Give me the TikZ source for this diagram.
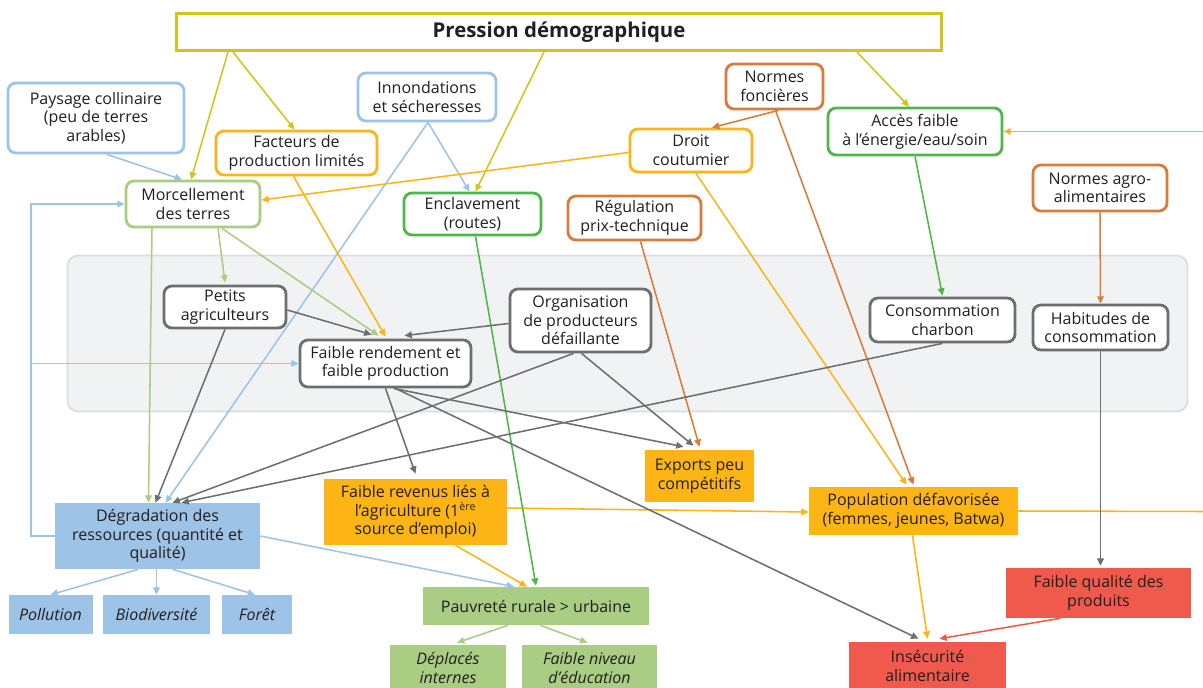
\documentclass[tikz,border=0pt]{standalone}
\usepackage{fontspec}
\setmainfont{Open Sans}
\usetikzlibrary{calc,arrows.meta}
\definecolor{cblue}{HTML}{9DC3E6}
\definecolor{corange}{HTML}{FDB515}
\definecolor{cbrown}{HTML}{D97B3A}
\definecolor{cgreen}{HTML}{4DB848}
\definecolor{clgreen}{HTML}{A9CD82}
\definecolor{cgrey}{HTML}{6D6E71}
\definecolor{cred}{HTML}{EF5A4C}
\definecolor{cyel}{HTML}{D4C31A}
\definecolor{cbg}{HTML}{F1F2F4}
\definecolor{cbgb}{HTML}{DCDDE0}
\definecolor{ctext}{HTML}{231F20}
\tikzset{
 sz/.style 2 args={minimum width=#1*0.75pt, minimum height=#2*0.75pt},
 base/.style={inner sep=0pt, align=center, font=\fontsize{12}{14}\selectfont, text=ctext},
 rbox/.style={base, draw=#1, line width=2.1pt, rounded corners=6pt, fill=white},
 fbox/.style={base, fill=#1},
 ibox/.style={base, fill=#1, font=\fontsize{12}{14}\selectfont\itshape},
 panel/.style={draw=cbgb, fill=cbg, line width=1.3pt, rounded corners=8pt, inner sep=0pt},
 arr/.style={draw=#1, line width=1.15pt, -{Triangle[length=5.5pt,width=5pt]}},
 ln/.style={draw=#1, line width=1.15pt},
}
\begin{document}
\begin{tikzpicture}[x=0.75pt,y=-0.75pt]
\useasboundingbox (0,0) rectangle (1203,688);
\fill[white] (0,0) rectangle (1203,688);
% panel
\node[panel, sz={1120}{156}] (panel) at (627.5,333.5) {};
% top nodes
\node[base, draw=cyel, line width=2.3pt, fill=white, sz={765}{37}, font=\fontsize{15.3}{18}\selectfont\bfseries] (title) at (559,32) {Pression démographique};
\node[rbox=cblue, sz={176}{70}] (paysage) at (96,118) {Paysage collinaire\\(peu de terres\\arables)};
\node[rbox=corange, sz={161}{44}] (facteurs) at (296.5,153) {Facteurs de\\production limités};
\node[rbox=cblue, sz={138}{48}] (innond) at (427,97) {Innondations\\et sécheresses};
\node[rbox=cbrown, sz={97}{45}] (normesf) at (774.5,86.5) {Normes\\foncières};
\node[rbox=corange, sz={122}{43}] (droit) at (691,150.5) {Droit\\coutumier};
\node[rbox=cgreen, sz={174}{47}] (acces) at (915,131.5) {Accès faible\\à l’énergie/eau/soin};
\node[rbox=cbrown, sz={134}{46}] (normesa) at (1100,188) {Normes agro-\\alimentaires};
\node[rbox=clgreen, sz={134}{46}] (morcel) at (193,204) {Morcellement\\des terres};
\node[rbox=cgreen, sz={137}{42}] (enclav) at (472.5,214) {Enclavement\\(routes)};
\node[rbox=cbrown, sz={133}{44}] (regul) at (634.5,218) {Régulation\\prix-technique};
% panel nodes
\node[rbox=cgrey, sz={122}{42}] (petits) at (225,307) {Petits\\agriculteurs};
\node[rbox=cgrey, sz={171}{47}] (faible) at (385.5,363.5) {Faible rendement et\\faible production};
\node[rbox=cgrey, sz={141}{63}] (organ) at (580.5,320.5) {Organisation\\de producteurs\\défaillante};
\node[rbox=cgrey, sz={145}{44}] (conso) at (942.5,320) {Consommation\\charbon};
\node[rbox=cgrey, sz={135}{45}] (habit) at (1100.5,327.5) {Habitudes de\\consommation};
% lower nodes
\node[fbox=corange, sz={109}{52}] (exports) at (699.5,476) {Exports peu\\compétitifs};
\node[fbox=corange, sz={183}{66}] (revenus) at (415.5,512) {Faible revenus liés à\\l’agriculture (1\textsuperscript{ère}\\source d’emploi)};
\node[fbox=corange, sz={209}{48}] (popul) at (913.5,511) {Population défavorisée\\(femmes, jeunes, Batwa)};
\node[fbox=cblue, sz={205}{66}] (degrad) at (157.5,536) {Dégradation des\\ressources (quantité et\\qualité)};
\node[ibox=cblue, sz={84}{39}] (pollu) at (50.5,614.5) {Pollution};
\node[ibox=cblue, sz={107}{39}] (biodiv) at (156.5,614.5) {Biodiversité};
\node[ibox=cblue, sz={70}{39}] (foret) at (257,614.5) {Forêt};
\node[fbox=clgreen, sz={226}{38}] (pauv) at (536,606) {Pauvreté rurale > urbaine};
\node[ibox=clgreen, sz={116}{46}] (deplac) at (448,668) {Déplacés\\internes};
\node[ibox=clgreen, sz={135}{46}] (faibniv) at (589.5,668) {Faible niveau\\d’éducation};
\node[fbox=cred, sz={157}{48}] (insec) at (927.5,666) {Insécurité\\alimentaire};
\node[fbox=cred, sz={185}{50}] (qualite) at (1098.5,593) {Faible qualité des\\produits};
\coordinate (rA) at (1203,131.5);
\coordinate (rP) at (1203,511.5);
\coordinate (lp) at ($(degrad.west)+(-24,0)$);
% title arrows
\draw[arr=cyel] ($(title.south)+(-331,0)$) -- ($(morcel.north)+(-2,0)$);
\draw[arr=cyel] ($(title.south)+(-326,0)$) -- ($(facteurs.north)+(-2,0)$);
\draw[arr=cyel] ($(title.south)+(-15,0)$) -- ($(enclav.north)+(3,0)$);
\draw[arr=cyel] ($(title.south)+(298,0)$) -- ($(acces.north)+(-6,0)$);
% blue
\draw[arr=cblue] ($(paysage.south)+(11,0)$) -- ($(morcel.north)+(-11,0)$);
\draw[arr=cblue] ($(innond.south)+(1,0)$) -- ($(enclav.north)+(-3,0)$);
\draw[arr=cblue] ($(innond.south)+(1,0)$) -- ($(degrad.north)+(8,0)$);
\draw[arr=cblue] (degrad.west) -- (lp) |- (morcel.west);
\draw[arr=cblue] (lp |- faible.west) -- (faible.west);
\draw[arr=cblue] (degrad.east) -- ($(pauv.north)+(-22,0)$);
\draw[arr=cblue] ($(degrad.south)+(-19,0)$) -- (pollu.north);
\draw[arr=cblue] ($(degrad.south)+(-1,0)$) -- (biodiv.north);
\draw[arr=cblue] ($(degrad.south)+(15,0)$) -- ($(foret.north)+(-2,0)$);
% orange
\draw[arr=corange] ($(facteurs.south)+(-3,0)$) -- ($(faible.north)+(0,-2)$);
\draw[arr=corange] ($(droit.west)+(0,2)$) -- ($(morcel.east)+(0,-4)$);
\draw[arr=corange] ($(droit.south)+(5,0)$) -- ($(popul.north)+(-7,-2)$);
\draw[arr=corange] (rA) -- (acces.east);
\draw[arr=corange] ($(revenus.east)+(0,-4)$) -- ($(popul.west)+(0,1)$);
\draw[ln=corange] (popul.east) -- (rP);
\draw[arr=corange] ($(revenus.south)+(40,0)$) -- ($(pauv.north)+(-9,0)$);
\draw[arr=corange] ($(popul.south)+(-1,0)$) -- ($(insec.north)+(0,-3)$);
% brown
\draw[arr=cbrown] ($(normesf.south)+(4,0)$) -- ($(droit.north)+(21,0)$);
\draw[arr=cbrown] ($(normesf.south)+(1,0)$) -- ($(popul.north)+(0,-2)$);
\draw[arr=cbrown] (normesa.south) -- (habit.north);
\draw[arr=cbrown] ($(regul.south)+(6,0)$) -- ($(exports.north)+(0,-3)$);
% green
\draw[arr=cgreen] ($(acces.south)+(0,0)$) -- ($(conso.north)+(0,-1)$);
\draw[arr=cgreen] ($(enclav.south)+(3,0)$) -- ($(pauv.north)+(0,-1)$);
% light green
\draw[arr=clgreen] ($(morcel.south)+(-41,0)$) -- ($(degrad.north)+(-9,0)$);
\draw[arr=clgreen] ($(morcel.south)+(25,0)$) -- ($(petits.north)+(0,-2)$);
\draw[arr=clgreen] ($(morcel.south)+(29,0)$) -- ($(faible.north)+(-7,-3)$);
\draw[arr=clgreen] ($(pauv.south)+(-28,0)$) -- ($(deplac.north)+(9,-2)$);
\draw[arr=clgreen] ($(pauv.south)+(4,0)$) -- ($(faibniv.north)+(-2,-2)$);
% grey
\draw[arr=cgrey] ($(petits.east)+(0,3)$) -- ($(faible.north)+(-14,-4)$);
\draw[arr=cgrey] (petits.south) -- ($(degrad.north)+(-2,0)$);
\draw[arr=cgrey] ($(organ.west)+(0,3)$) -- ($(faible.north)+(19,-3)$);
\draw[arr=cgrey] ($(organ.south)+(-7,0)$) -- ($(degrad.north)+(15,0)$);
\draw[arr=cgrey] ($(organ.south)+(1,0)$) -- ($(exports.north)+(-6,-4)$);
\draw[arr=cgrey] (conso.south) -- ($(degrad.north)+(24,0)$);
\draw[arr=cgrey] (faible.south) -- ($(revenus.north)+(0,-5)$);
\draw[arr=cgrey] ($(faible.south)+(8,0)$) -- ($(exports.north)+(-16,-3)$);
\draw[arr=cgrey] ($(faible.south)+(10,0)$) -- ($(insec.north)+(-9,-3)$);
\draw[arr=cgrey] (habit.south) -- ($(qualite.north)+(2,-2)$);
% red
\draw[arr=cred] ($(qualite.south)+(-38,0)$) -- ($(insec.north)+(12,-3)$);
\end{tikzpicture}
\end{document}
